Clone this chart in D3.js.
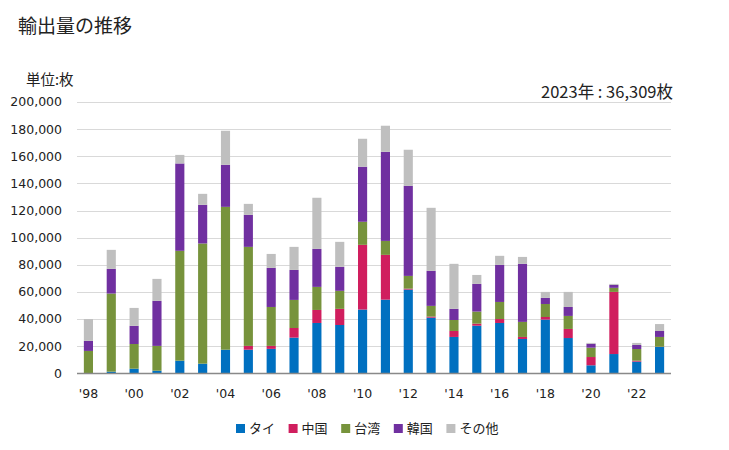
<!DOCTYPE html>
<html><head><meta charset="utf-8">
<script src="https://cdn.jsdelivr.net/npm/d3@7"></script>
<style>
body{margin:0;background:#fff;}
svg{display:block;}
</style></head>
<body>
<svg id="c" width="729" height="450"></svg>
<script>
const years = [1998,1999,2000,2001,2002,2003,2004,2005,2006,2007,2008,2009,2010,2011,2012,2013,2014,2015,2016,2017,2018,2019,2020,2021,2022,2023];
const seriesNames = ["タイ","中国","台湾","韓国","その他"];
const thai   = [0,1200,3400,1900,9300,7100,17400,17400,18000,26300,37100,35600,47000,54300,61700,41000,26800,35100,37100,25300,39600,26000,5900,14200,8600,19400];
const china  = [0,0,0,0,0,0,0,2800,2200,7100,9600,11900,47700,33000,700,800,4400,1500,2900,1500,1900,6700,6100,45800,700,200];
const taiwan = [16500,57600,18200,18300,81000,88600,105300,73000,28700,20700,17000,13300,17000,10300,9400,7900,8100,8900,12600,11100,9600,9600,6900,3000,8600,7200];
const korea  = [7400,18200,13400,33200,64400,28500,31000,23600,28800,22100,28000,17700,40600,65700,66400,25800,8200,20400,27300,42800,4500,6600,2900,2200,3000,4400];
const other  = [16100,14000,13200,16200,6300,8100,25100,8100,10300,17000,37700,18400,20600,19200,26600,46500,33200,6600,6700,5100,4400,11100,600,700,1500,5100];
const yTicks = [0,20000,40000,60000,80000,100000,120000,140000,160000,180000,200000];
const xTickYears = [1998,2000,2002,2004,2006,2008,2010,2012,2014,2016,2018,2020,2022];
const xTickLabels = ["'98","'00","'02","'04","'06","'08","'10","'12","'14","'16","'18","'20","'22"];
const colors = ["#0070C0","#D01E5E","#77933C","#7030A0","#BFBFBF"];

const svg = d3.select("#c");
const jp = "'Noto Sans CJK JP', 'Noto Sans', sans-serif";
const num = "'DejaVu Sans', Verdana, sans-serif";

const x = d3.scaleBand().domain(years).range([77, 671]).paddingInner(0.6).paddingOuter(0.3);
const y = d3.scaleLinear().domain([0, 200000]).range([373.3, 102]);

svg.append("g").selectAll("line").data(yTicks.slice(1)).join("line")
  .attr("x1", 77).attr("x2", 671)
  .attr("y1", d => Math.round(y(d)) + 0.5).attr("y2", d => Math.round(y(d)) + 0.5)
  .attr("stroke", "#d9d9d9").attr("stroke-width", 1);

svg.append("g").selectAll("text").data(yTicks).join("text")
  .attr("x", 62).attr("y", d => y(d)).attr("dy", "0.35em")
  .attr("text-anchor", "end").attr("font-family", num).attr("font-size", 12.5).attr("fill", "#222")
  .text(d => d3.format(",")(d));

const rows = years.map((yr, i) => ({year: yr, "タイ": thai[i], "中国": china[i], "台湾": taiwan[i], "韓国": korea[i], "その他": other[i]}));
const stack = d3.stack().keys(seriesNames)(rows);

svg.append("g").selectAll("g").data(stack).join("g")
  .attr("fill", (d, i) => colors[i])
  .selectAll("rect").data(d => d).join("rect")
  .attr("x", d => x(d.data.year))
  .attr("width", x.bandwidth())
  .attr("y", d => y(d[1]))
  .attr("height", d => Math.max(0, y(d[0]) - y(d[1])));

svg.append("line").attr("x1", 77).attr("x2", 671).attr("y1", 373.5).attr("y2", 373.5)
  .attr("stroke", "#898989").attr("stroke-width", 1.5);

svg.append("g").selectAll("text").data(xTickYears).join("text")
  .attr("x", d => x(d) + x.bandwidth() / 2).attr("y", 393.5).attr("dy", "0.35em")
  .attr("text-anchor", "middle").attr("font-family", num).attr("font-size", 12.5).attr("fill", "#222")
  .text((d, i) => xTickLabels[i]);

svg.append("text").attr("x", 18).attr("y", 33).attr("font-family", jp).attr("font-size", 19).attr("fill", "#222").text("輸出量の推移");
svg.append("text").attr("x", 26).attr("y", 80).attr("dy", "0.35em").attr("font-family", jp).attr("font-size", 14.5).attr("fill", "#222").text("単位:枚");
svg.append("text").attr("x", 673).attr("y", 92).attr("dy", "0.35em").attr("text-anchor", "end").attr("font-family", jp).attr("font-size", 16.5).attr("fill", "#222").attr("xml:space", "preserve").text("2023年 : 36,309枚");

const lg = svg.append("g").selectAll("g").data(seriesNames).join("g")
  .attr("transform", (d, i) => `translate(${236 + i * 52.6},424)`);
lg.append("rect").attr("width", 9).attr("height", 9).attr("fill", (d, i) => colors[i]);
lg.append("text").attr("x", 13).attr("y", 4.5).attr("dy", "0.35em").attr("font-family", jp).attr("font-size", 13).attr("fill", "#222").text(d => d);
</script>
</body></html>
